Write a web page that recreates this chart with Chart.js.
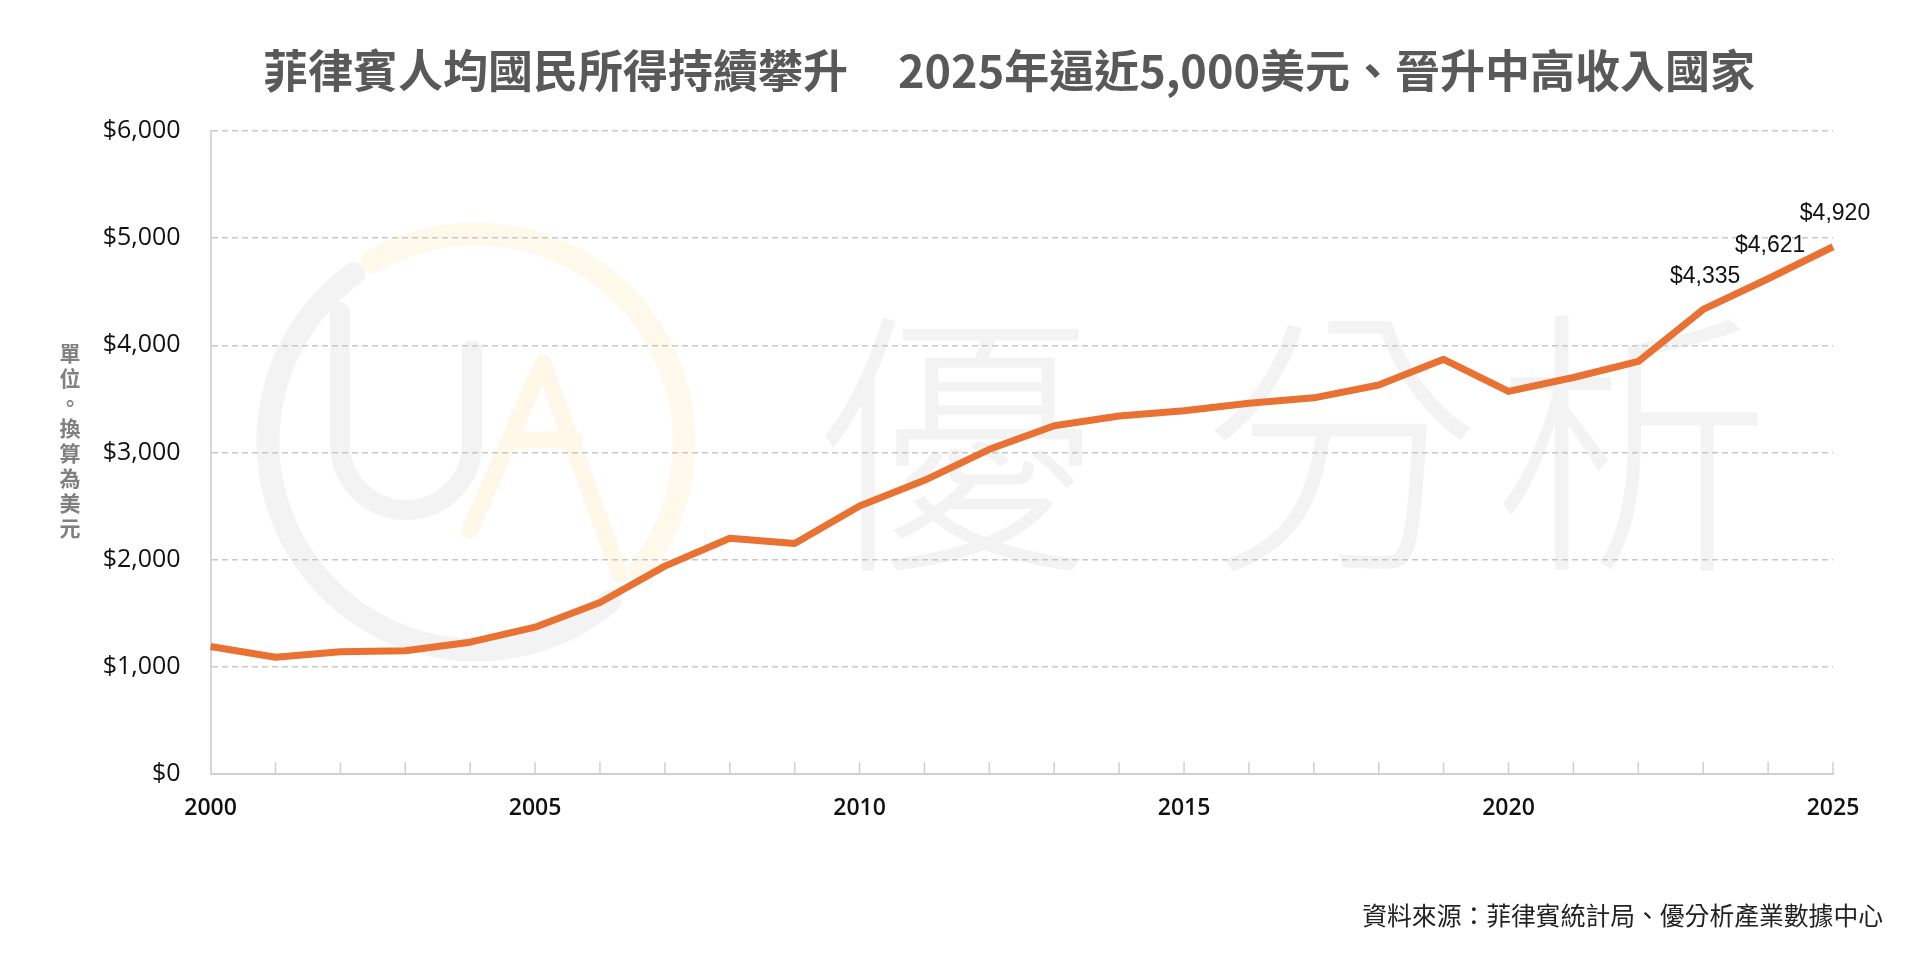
<!DOCTYPE html>
<html>
<head>
<meta charset="utf-8">
<script src="https://cdn.jsdelivr.net/npm/chart.js@4"></script>
<style>
  html, body { margin: 0; padding: 0; background: #fff; }
  body { width: 1920px; height: 968px; position: relative; overflow: hidden; font-family: "Noto Sans CJK TC", "Noto Sans", sans-serif; }
  #wrap { position: absolute; left: 0; top: 0; width: 1920px; height: 968px; }
  #title { position: absolute; top: 43px; left: 1009px; transform: translateX(-50%); white-space: pre; font-size: 45px; font-weight: 700; color: #595959; line-height: 52px; }
  #title .gap { display: inline-block; width: 50px; }
  #unit { position: absolute; left: 57px; top: 340px; width: 26px; font-size: 21px; font-weight: 700; color: #808080; line-height: 25px; text-align: center; }
  #source { position: absolute; right: 37px; top: 896px; font-size: 24.8px; color: #222; white-space: pre; }
</style>
</head>
<body>
<div id="wrap"><canvas id="gniChart" width="1920" height="968"></canvas></div>
<div id="title">菲律賓人均國民所得持續攀升<span class="gap"></span>2025年逼近5,000美元、晉升中高收入國家</div>
<div id="unit">單<br>位<br>。<br>換<br>算<br>為<br>美<br>元</div>
<div id="source">資料來源：菲律賓統計局、優分析產業數據中心</div>
<script>
const years = ['2000', '2001', '2002', '2003', '2004', '2005', '2006', '2007', '2008', '2009',
  '2010', '2011', '2012', '2013', '2014', '2015', '2016', '2017', '2018', '2019',
  '2020', '2021', '2022', '2023', '2024', '2025'];
const gniPerCapita = [1190, 1090, 1140, 1150, 1230, 1370, 1600, 1940, 2200, 2150,
  2500, 2740, 3030, 3250, 3340, 3390, 3460, 3510, 3630, 3870,
  3570, 3700, 3850, 4335, 4621, 4920];
const yTicks = [0, 1000, 2000, 3000, 4000, 5000, 6000];
const xTickYears = ['2000', '2005', '2010', '2015', '2020', '2025'];
const labeledYears = ['2023', '2024', '2025'];
const watermarkChars = ['優', '分', '析'];

const money = v => '$' + Number(v).toLocaleString('en-US');
const deg = d => d * Math.PI / 180;

// faint logo + "優分析" behind the grid
const watermark = {
  id: 'watermark',
  beforeDraw(chart) {
    const c = chart.ctx;
    c.save();
    c.lineCap = 'round';
    c.lineJoin = 'round';
    // ring: gray left part, pale yellow right part
    c.lineWidth = 23;
    c.strokeStyle = '#f3f3f3';
    c.beginPath();
    c.arc(476, 442, 208, deg(50), deg(234));
    c.stroke();
    c.strokeStyle = '#fff9ec';
    c.beginPath();
    c.arc(476, 442, 208, deg(240), deg(398));
    c.stroke();
    // U
    c.lineWidth = 20;
    c.strokeStyle = '#f3f3f3';
    c.beginPath();
    c.moveTo(340, 312);
    c.lineTo(340, 444);
    c.arc(406, 444, 66, Math.PI, 0, true);
    c.lineTo(472, 350);
    c.stroke();
    // A
    c.lineWidth = 17;
    c.strokeStyle = '#fff8e8';
    c.beginPath();
    c.moveTo(470, 530);
    c.lineTo(543, 363);
    c.lineTo(620, 575);
    c.moveTo(515, 440);
    c.lineTo(575, 440);
    c.stroke();
    // characters
    c.fillStyle = '#f3f3f3';
    c.font = '300 280px "Noto Sans CJK TC"';
    c.textAlign = 'center';
    c.textBaseline = 'middle';
    const cx = [955, 1341, 1632];
    watermarkChars.forEach((ch, i) => c.fillText(ch, cx[i], 443));
    c.restore();
  }
};

// short tick marks pointing up from the x axis
const innerTicks = {
  id: 'innerTicks',
  afterDraw(chart) {
    const x = chart.scales.x;
    const c = chart.ctx;
    const bottom = chart.chartArea.bottom;
    c.save();
    c.strokeStyle = '#d0d0d0';
    c.lineWidth = 1.5;
    years.forEach((y, i) => {
      if (i === 0) return;
      const px = x.getPixelForValue(i);
      c.beginPath();
      c.moveTo(px, bottom);
      c.lineTo(px, bottom - 12);
      c.stroke();
    });
    c.restore();
  }
};

const endLabels = {
  id: 'endLabels',
  afterDatasetsDraw(chart) {
    const meta = chart.getDatasetMeta(0);
    const c = chart.ctx;
    c.save();
    c.fillStyle = '#111';
    c.font = '23px "Liberation Sans", Arial, sans-serif';
    c.textAlign = 'center';
    c.textBaseline = 'middle';
    years.forEach((y, i) => {
      if (!labeledYears.includes(y)) return;
      const pt = meta.data[i];
      c.fillText(money(gniPerCapita[i]), pt.x + 2, pt.y - 33);
    });
    c.restore();
  }
};

const ctx = document.getElementById('gniChart').getContext('2d');
const chart = new Chart(ctx, {
  type: 'line',
  data: {
    labels: years,
    datasets: [{
      label: '人均國民所得',
      data: gniPerCapita,
      borderColor: '#E97132',
      borderWidth: 7,
      pointRadius: 0,
      tension: 0,
      borderJoinStyle: 'round',
      borderCapStyle: 'butt'
    }]
  },
  options: {
    responsive: false,
    animation: false,
    layout: { padding: { left: 0, top: 131, right: 87, bottom: 134 } },
    plugins: { legend: { display: false }, tooltip: { enabled: false } },
    scales: {
      x: {
        grid: { display: false, drawTicks: false },
        border: { display: true, color: '#d0d0d0', width: 2 },
        afterFit: s => { s.height = 60; },
        ticks: {
          autoSkip: false,
          maxRotation: 0,
          padding: 21,
          color: '#111',
          font: { family: '"Open Sans", sans-serif', size: 23, weight: '600' },
          callback: function (v, i) { return xTickYears.includes(years[i]) ? years[i] : ''; }
        }
      },
      y: {
        min: yTicks[0],
        max: yTicks[yTicks.length - 1],
        afterBuildTicks: s => { s.ticks = yTicks.map(v => ({ value: v })); },
        afterFit: s => { s.width = 210.6; },
        grid: { color: '#c8c8c8', lineWidth: 1.5, drawTicks: false },
        border: { display: true, color: '#d6d6d6', width: 2, dash: [6, 4] },
        ticks: {
          padding: 30,
          color: '#111',
          font: { family: '"Open Sans", sans-serif', size: 25 },
          callback: v => money(v)
        }
      }
    }
  },
  plugins: [watermark, innerTicks, endLabels]
});
</script>
</body>
</html>
